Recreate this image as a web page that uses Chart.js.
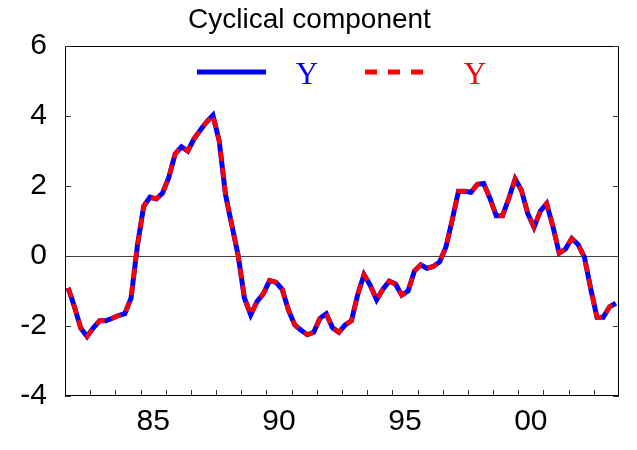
<!DOCTYPE html>
<html>
<head>
<meta charset="utf-8">
<script src="https://cdn.jsdelivr.net/npm/chart.js@4/dist/chart.umd.min.js"></script>
<style>
  html, body { margin: 0; padding: 0; background: #fff; }
  #wrap { width: 637px; height: 450px; }
</style>
</head>
<body>
<div id="wrap"><canvas id="chart" width="637" height="450"></canvas></div>
<script>
// quarterly observations, 1982Q1 - 2003Q4
const periods = [
  '1982Q1','1982Q2','1982Q3','1982Q4','1983Q1','1983Q2','1983Q3','1983Q4',
  '1984Q1','1984Q2','1984Q3','1984Q4','1985Q1','1985Q2','1985Q3','1985Q4',
  '1986Q1','1986Q2','1986Q3','1986Q4','1987Q1','1987Q2','1987Q3','1987Q4',
  '1988Q1','1988Q2','1988Q3','1988Q4','1989Q1','1989Q2','1989Q3','1989Q4',
  '1990Q1','1990Q2','1990Q3','1990Q4','1991Q1','1991Q2','1991Q3','1991Q4',
  '1992Q1','1992Q2','1992Q3','1992Q4','1993Q1','1993Q2','1993Q3','1993Q4',
  '1994Q1','1994Q2','1994Q3','1994Q4','1995Q1','1995Q2','1995Q3','1995Q4',
  '1996Q1','1996Q2','1996Q3','1996Q4','1997Q1','1997Q2','1997Q3','1997Q4',
  '1998Q1','1998Q2','1998Q3','1998Q4','1999Q1','1999Q2','1999Q3','1999Q4',
  '2000Q1','2000Q2','2000Q3','2000Q4','2001Q1','2001Q2','2001Q3','2001Q4',
  '2002Q1','2002Q2','2002Q3','2002Q4','2003Q1','2003Q2','2003Q3','2003Q4'
];

// cyclical component (solid blue)
const cycleSolid = [
  -0.91, -1.45, -2.06, -2.30, -2.05, -1.85, -1.85, -1.78,
  -1.70, -1.65, -1.20,  0.30,  1.42,  1.68,  1.63,  1.80,
   2.25,  2.92,  3.12,  3.00,  3.35,  3.60,  3.83,  4.02,
   3.28,  1.75,  0.88,  0.02, -1.20, -1.68, -1.30, -1.08,
  -0.70, -0.75, -0.95, -1.55, -1.97, -2.12, -2.25, -2.18,
  -1.78, -1.65, -2.05, -2.18, -1.97, -1.85, -1.10, -0.53,
  -0.84, -1.25, -0.95, -0.72, -0.80, -1.12, -1.00, -0.43,
  -0.25, -0.35, -0.30, -0.17,  0.25,  1.02,  1.85,  1.85,
   1.82,  2.05,  2.07,  1.65,  1.15,  1.15,  1.65,  2.20,
   1.88,  1.22,  0.82,  1.28,  1.50,  0.85,  0.08,  0.20,
   0.50,  0.33, -0.03, -0.93, -1.75, -1.75, -1.45, -1.35
];

// second series (dashed red), drawn over the first
const cycleDashed = [
  -0.91, -1.45, -2.06, -2.30, -2.05, -1.85, -1.85, -1.78,
  -1.70, -1.65, -1.20,  0.30,  1.42,  1.68,  1.63,  1.80,
   2.25,  2.92,  3.12,  3.00,  3.35,  3.60,  3.83,  4.02,
   3.28,  1.75,  0.88,  0.02, -1.20, -1.68, -1.30, -1.08,
  -0.70, -0.75, -0.95, -1.55, -1.97, -2.12, -2.25, -2.18,
  -1.78, -1.65, -2.05, -2.18, -1.97, -1.85, -1.10, -0.53,
  -0.84, -1.25, -0.95, -0.72, -0.80, -1.12, -1.00, -0.43,
  -0.25, -0.35, -0.30, -0.17,  0.25,  1.02,  1.85,  1.85,
   1.82,  2.05,  2.07,  1.65,  1.15,  1.15,  1.65,  2.20,
   1.88,  1.22,  0.82,  1.28,  1.50,  0.85,  0.08,  0.20,
   0.50,  0.33, -0.03, -0.93, -1.75, -1.75, -1.45, -1.35
];

const yearLabels = ['85', '90', '95', '00'];
const yearLabelStarts = ['1985Q1', '1990Q1', '1995Q1', '2000Q1'];
const legendLabels = ['Y', 'Y'];

const toPoints = (vals) => vals.map((v, i) => ({ x: i, y: v }));

// box, inward tick marks and the legend row
const frame = {
  id: 'frame',
  afterDraw(chart) {
    const { ctx, chartArea: a, scales: { x, y } } = chart;
    ctx.save();
    ctx.lineWidth = 1;
    ctx.strokeStyle = '#000';
    ctx.strokeRect(a.left + 0.5, a.top + 0.5, a.width - 1, a.height - 1);

    ctx.strokeStyle = '#333';
    ctx.beginPath();
    periods.forEach((p, i) => {
      if (i === 0 || !p.endsWith('Q1')) return;
      const px = Math.round(x.getPixelForValue(i - 0.5)) + 0.5;
      ctx.moveTo(px, a.bottom);
      ctx.lineTo(px, a.bottom - 6);
    });
    y.ticks.forEach(t => {
      const py = Math.round(y.getPixelForValue(t.value)) + 0.5;
      ctx.moveTo(a.left, py);
      ctx.lineTo(a.left + 6, py);
      ctx.moveTo(a.right, py);
      ctx.lineTo(a.right - 6, py);
    });
    ctx.stroke();

    // legend
    const rowY = 72;
    const items = [
      { x0: 197, tx: 307, ds: chart.data.datasets[0], dash: [] },
      { x0: 365, tx: 475, ds: chart.data.datasets[1], dash: [12, 11] }
    ];
    ctx.font = '31px "Liberation Serif", "Times New Roman", serif';
    ctx.textAlign = 'center';
    ctx.textBaseline = 'alphabetic';
    items.forEach((it, k) => {
      ctx.strokeStyle = it.ds.borderColor;
      ctx.lineWidth = 5;
      ctx.setLineDash(it.dash);
      ctx.beginPath();
      ctx.moveTo(it.x0, rowY);
      ctx.lineTo(it.x0 + 69, rowY);
      ctx.stroke();
      ctx.setLineDash([]);
      ctx.fillStyle = it.ds.borderColor;
      ctx.fillText(legendLabels[k], it.tx, rowY + 12);
    });
    ctx.restore();
  }
};

Chart.defaults.font.family = '"Liberation Sans", Arial, sans-serif';
Chart.defaults.color = '#000';

new Chart(document.getElementById('chart'), {
  type: 'line',
  data: {
    datasets: [
      {
        label: legendLabels[0],
        data: toPoints(cycleSolid),
        borderColor: '#0000ff',
        borderWidth: 5,
        pointRadius: 0,
        tension: 0,
        order: 1,
      },
      {
        label: legendLabels[1],
        data: toPoints(cycleDashed),
        borderColor: '#ff0000',
        borderWidth: 4.5,
        borderDash: [10, 7],
        pointRadius: 0,
        tension: 0,
        order: 0,
      }
    ]
  },
  options: {
    responsive: false,
    animation: false,
    devicePixelRatio: 1,
    layout: { padding: { left: 0, right: 18, top: 0, bottom: 0 } },
    scales: {
      x: {
        type: 'linear',
        min: -0.5,
        max: periods.length - 0.5,
        grid: { display: false, drawTicks: false },
        border: { display: false },
        afterBuildTicks: (s) => {
          s.ticks = yearLabelStarts.map(p => ({ value: periods.indexOf(p) + 1.5 }));
        },
        ticks: {
          autoSkip: false,
          maxRotation: 0,
          padding: 8,
          font: { size: 30 },
          callback: (v, i) => yearLabels[i],
        },
        afterFit: (s) => { s.height = 54; },
      },
      y: {
        min: -4,
        max: 6,
        ticks: { stepSize: 2, padding: 18, font: { size: 30 } },
        grid: {
          drawTicks: false,
          lineWidth: 1,
          color: (c) => (c.tick && c.tick.value === 0 ? '#444' : 'rgba(0,0,0,0)'),
        },
        border: { display: false },
        afterFit: (s) => { s.width = 65; },
      }
    },
    plugins: {
      legend: { display: false },
      tooltip: { enabled: false },
      title: {
        display: true,
        text: 'Cyclical component',
        font: { size: 28, weight: 'normal' },
        padding: { top: 3, bottom: 9.4 },
      }
    }
  },
  plugins: [frame]
});
</script>
</body>
</html>
